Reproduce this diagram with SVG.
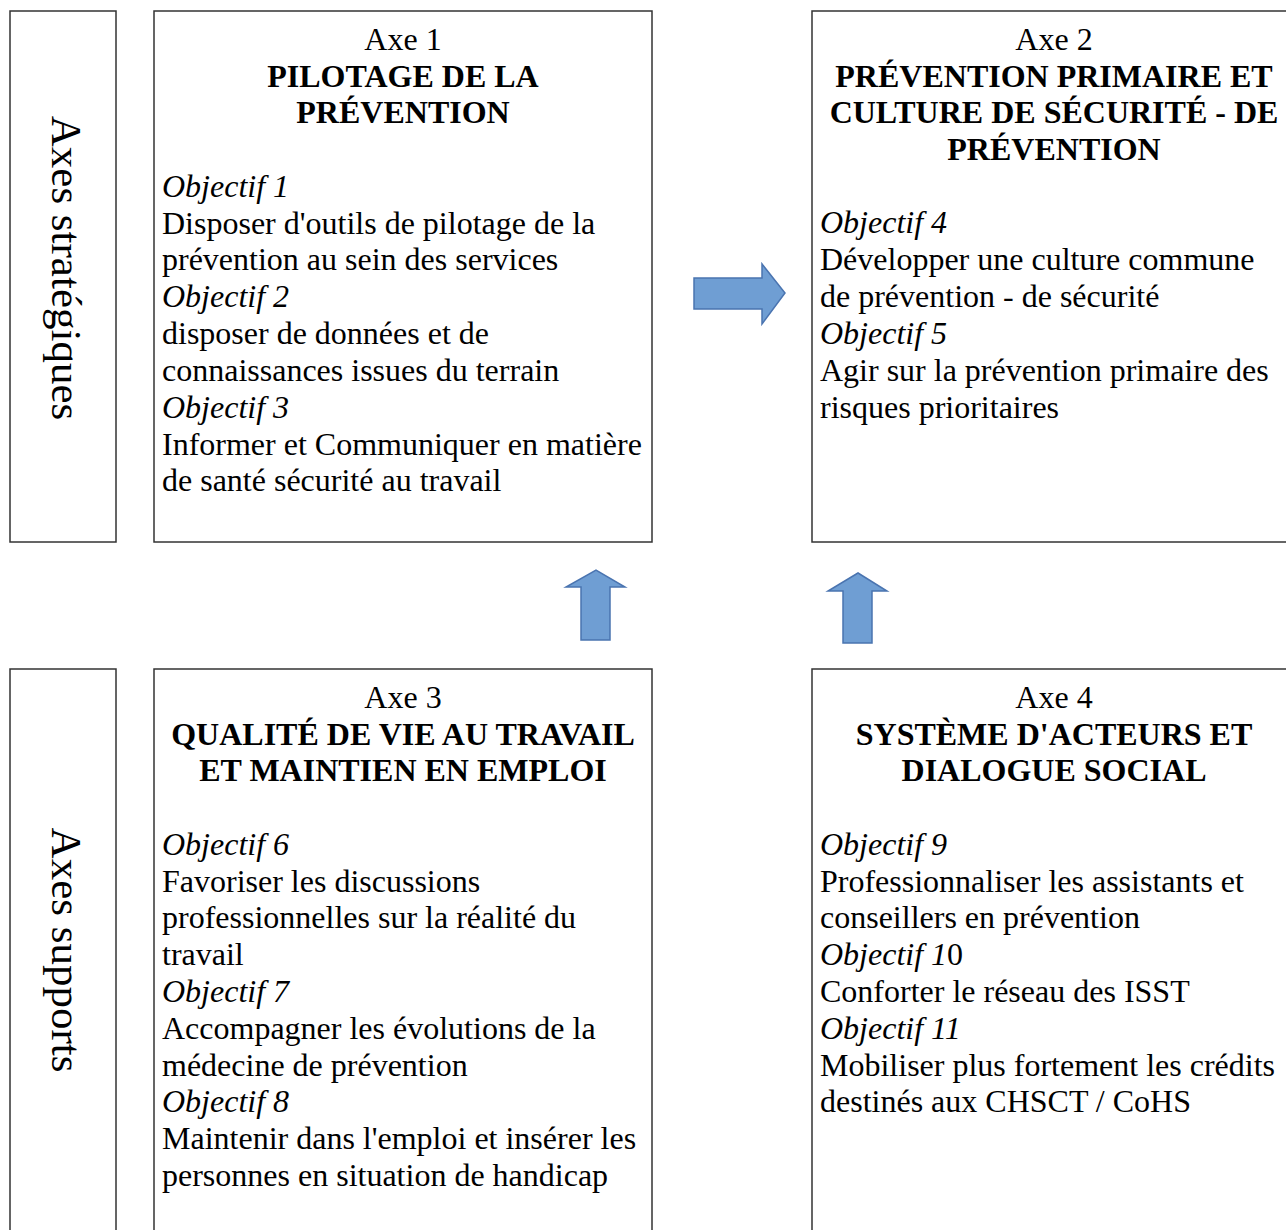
<svg xmlns="http://www.w3.org/2000/svg" width="1286" height="1230" viewBox="0 0 1286 1230">
<style>
.box{fill:#fff;stroke:#333;stroke-width:1.5}
text{font-family:"Liberation Serif","Times New Roman",serif;font-size:32px;fill:#000}
.c{text-anchor:middle}
.b{font-weight:bold}
.i{font-style:italic}
.v{font-size:43px}
.arr{fill:#6f9ed3;stroke:#4a74b0;stroke-width:1.5}
</style>
<rect width="1286" height="1230" fill="#fff"/>
<g id="label-strat">
<rect class="box" x="10" y="11" width="106" height="531"/>
<text class="c v" transform="translate(52,268) rotate(90)">Axes stratégiques</text>
</g>
<g id="label-supports">
<rect class="box" x="10" y="669" width="106" height="600"/>
<text class="c v" transform="translate(52,950) rotate(90)">Axes supports</text>
</g>
<g id="axe1">
<rect class="box" x="154" y="11" width="498" height="531"/>
<g transform="translate(0,2)">
<text class="c" x="403" y="48">Axe 1</text>
<text class="c b" x="403" y="85">PILOTAGE DE LA</text>
<text class="c b" x="403" y="121">PRÉVENTION</text>
<text x="162" y="195" class="i">Objectif 1</text>
<text x="162" y="232">Disposer d'outils de pilotage de la</text>
<text x="162" y="268">prévention au sein des services</text>
<text x="162" y="305" class="i">Objectif 2</text>
<text x="162" y="342">disposer de données et de</text>
<text x="162" y="379">connaissances issues du terrain</text>
<text x="162" y="416" class="i">Objectif 3</text>
<text x="162" y="453">Informer et Communiquer en matière</text>
<text x="162" y="489">de santé sécurité au travail</text>
</g>
</g>
<g id="axe2">
<rect class="box" x="812" y="11" width="500" height="531"/>
<g transform="translate(0,2)">
<text class="c" x="1054" y="48">Axe 2</text>
<text class="c b" x="1054" y="85">PRÉVENTION PRIMAIRE ET</text>
<text class="c b" x="1054" y="121">CULTURE DE SÉCURITÉ - DE</text>
<text class="c b" x="1054" y="158">PRÉVENTION</text>
<text x="820" y="231" class="i">Objectif 4</text>
<text x="820" y="268">Développer une culture commune</text>
<text x="820" y="305">de prévention - de sécurité</text>
<text x="820" y="342" class="i">Objectif 5</text>
<text x="820" y="379">Agir sur la prévention primaire des</text>
<text x="820" y="416">risques prioritaires</text>
</g>
</g>
<g id="axe3">
<rect class="box" x="154" y="669" width="498" height="600"/>
<g transform="translate(0,2)">
<text class="c" x="403" y="706">Axe 3</text>
<text class="c b" x="403" y="743">QUALITÉ DE VIE AU TRAVAIL</text>
<text class="c b" x="403" y="779">ET MAINTIEN EN EMPLOI</text>
<text x="162" y="853" class="i">Objectif 6</text>
<text x="162" y="890">Favoriser les discussions</text>
<text x="162" y="926">professionnelles sur la réalité du</text>
<text x="162" y="963">travail</text>
<text x="162" y="1000" class="i">Objectif 7</text>
<text x="162" y="1037">Accompagner les évolutions de la</text>
<text x="162" y="1074">médecine de prévention</text>
<text x="162" y="1110" class="i">Objectif 8</text>
<text x="162" y="1147">Maintenir dans l'emploi et insérer les</text>
<text x="162" y="1184">personnes en situation de handicap</text>
</g>
</g>
<g id="axe4">
<rect class="box" x="812" y="669" width="500" height="600"/>
<g transform="translate(0,2)">
<text class="c" x="1054" y="706">Axe 4</text>
<text class="c b" x="1054" y="743">SYSTÈME D'ACTEURS ET</text>
<text class="c b" x="1054" y="779">DIALOGUE SOCIAL</text>
<text x="820" y="853" class="i">Objectif 9</text>
<text x="820" y="890">Professionnaliser les assistants et</text>
<text x="820" y="926">conseillers en prévention</text>
<text x="820" y="963"><tspan class="i">Objectif 1</tspan>0</text>
<text x="820" y="1000">Conforter le réseau des ISST</text>
<text x="820" y="1037" class="i">Objectif 11</text>
<text x="820" y="1074">Mobiliser plus fortement les crédits</text>
<text x="820" y="1110">destinés aux CHSCT / CoHS</text>
</g>
</g>
<g id="connectors">
<polygon class="arr" points="694,278 762,278 762,264 785,293 762,324 762,309 694,309"/>
<polygon class="arr" points="581,640 581,587 566,587 596,570 625,587 610,587 610,640"/>
<polygon class="arr" points="843,643 843,591 828,591 858,573 887,591 872,591 872,643"/>
</g>
</svg>
